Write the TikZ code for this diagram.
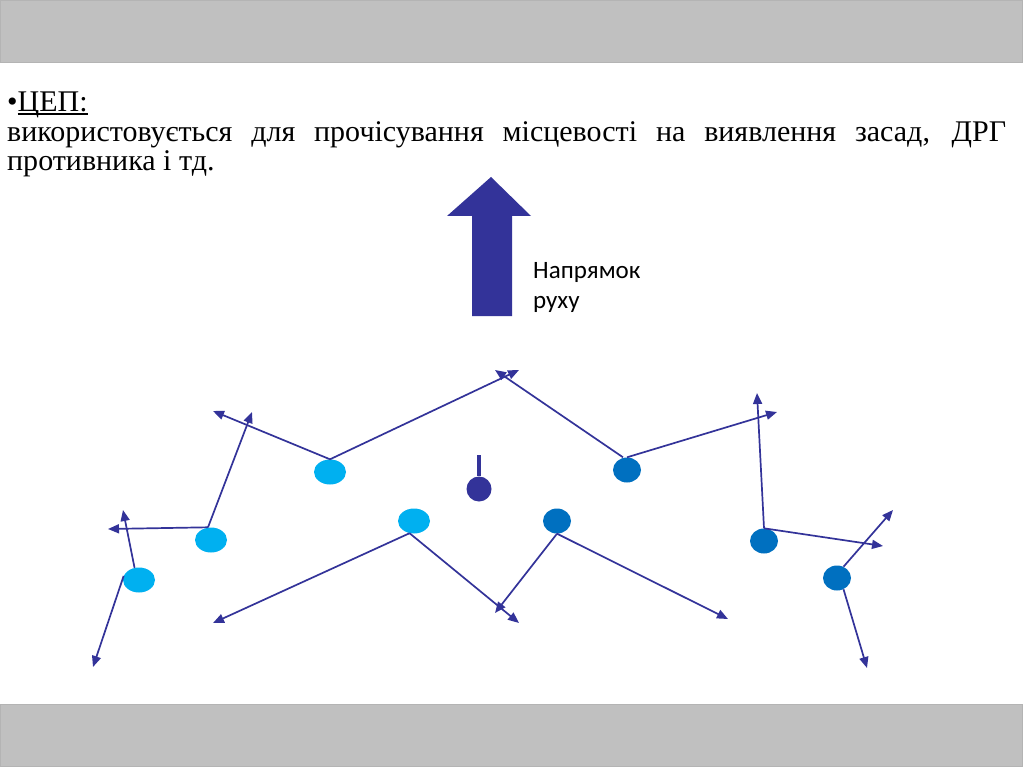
\documentclass[tikz,border=0pt]{standalone}
\usepackage{fontspec}
\setmainfont{Liberation Serif}
\newfontfamily\labelfont{Carlito}
\usetikzlibrary{arrows.meta,shapes.geometric}
\newcommand\ulboxed[1]{\setbox0\hbox{#1}\rlap{\rule[-3pt]{\wd0}{1.6pt}}\box0}
\definecolor{bargray}{HTML}{C0C0C0}
\definecolor{baredge}{HTML}{B4B4B4}
\definecolor{navy}{HTML}{333399}
\definecolor{lightdot}{HTML}{00B0F0}
\definecolor{darkdot}{HTML}{0070C0}
\tikzset{
  bar/.style={fill=bargray,draw=baredge,line width=0.8pt},
  bodytext/.style={anchor=base west,inner sep=0pt,font=\fontsize{30}{30}\selectfont},
  labeltext/.style={anchor=base west,inner sep=0pt,font=\labelfont\fontsize{25}{30}\selectfont},
  ldot/.style={ellipse,fill=lightdot,minimum width=32pt,minimum height=25pt,inner sep=0pt},
  ddot/.style={ellipse,fill=darkdot,minimum width=28pt,minimum height=25pt,inner sep=0pt},
  leader/.style={circle,fill=navy,minimum size=25pt,inner sep=0pt},
  move/.style={draw=navy,line width=1.7pt,-{Triangle[length=11pt,width=9pt]}},
  bigarrow/.style={fill=navy},
}
\begin{document}
\begin{tikzpicture}[x=1pt,y=-1pt]
\useasboundingbox (0,0) rectangle (1024,767);
\fill[white] (0,0) rectangle (1024,767);
% bars
\path[bar] (0.5,0.5) rectangle (1022,62);
\path[bar] (0.5,704) rectangle (1022,766.5);
% text
\node[bodytext] (t1) at (7,112) {•\ulboxed{ЦЕП:}};
\node[bodytext] (t2) at (7,142) {\makebox[999pt][s]{використовується для прочісування місцевості на виявлення засад, ДРГ}};
\node[bodytext] (t3) at (7,171) {противника і тд.};
% direction arrow
\path[bigarrow] (472,316) -- (472,216) -- (447,216) -- (491,177) -- (531,216) -- (512,216) -- (512,316) -- cycle;
\node[labeltext] (dir1) at (533,278) {Напрямок};
\node[labeltext] (dir2) at (533,308) {руху};
% dots
\node[ldot] (A) at (330,472) {};
\node[ldot] (B) at (211,540) {};
\node[ldot] (C) at (139,580) {};
\node[ldot] (D) at (414,521) {};
\node[ddot] (E) at (627,470) {};
\node[ddot] (F) at (557,521) {};
\node[ddot] (G) at (764,541) {};
\node[ddot] (H) at (837,578) {};
\node[leader] (L) at (479,489) {};
\draw[navy,line width=4pt] (479,455) -- (L.north);
% arrow end points
\coordinate (a1) at (213,411);
\coordinate (a2) at (519,370);
\coordinate (b1) at (252,412);
\coordinate (b2) at (108,529);
\coordinate (c1) at (123,510);
\coordinate (c2) at (93,667);
\coordinate (d1) at (213,623);
\coordinate (d2) at (519,623);
\coordinate (e1) at (495,370);
\coordinate (e2) at (777,412);
\coordinate (f1) at (495,613);
\coordinate (f2) at (728,619);
\coordinate (g1) at (757,393);
\coordinate (g2) at (883,546);
\coordinate (h1) at (893,510);
\coordinate (h2) at (867,668);
% connectors
\draw[move] (A.north) -- (a1);
\draw[move] (A.north) -- (a2);
\draw[move] ([xshift=-3pt]B.north) -- (b1);
\draw[move] ([xshift=-3pt]B.north) -- (b2);
\draw[move] (C.110) -- (c1);
\draw[move] (C.165) -- (c2);
\draw[move] (D.250) -- (d1);
\draw[move] (D.250) -- (d2);
\draw[move] ([xshift=-4pt]E.north) -- (e1);
\draw[move] (E.north) -- (e2);
\draw[move] (F.south) -- (f1);
\draw[move] (F.south) -- (f2);
\draw[move] (G.north) -- (g1);
\draw[move] (G.north) -- (g2);
\draw[move] (H.60) -- (h1);
\draw[move] (H.-60) -- (h2);
\end{tikzpicture}
\end{document}
